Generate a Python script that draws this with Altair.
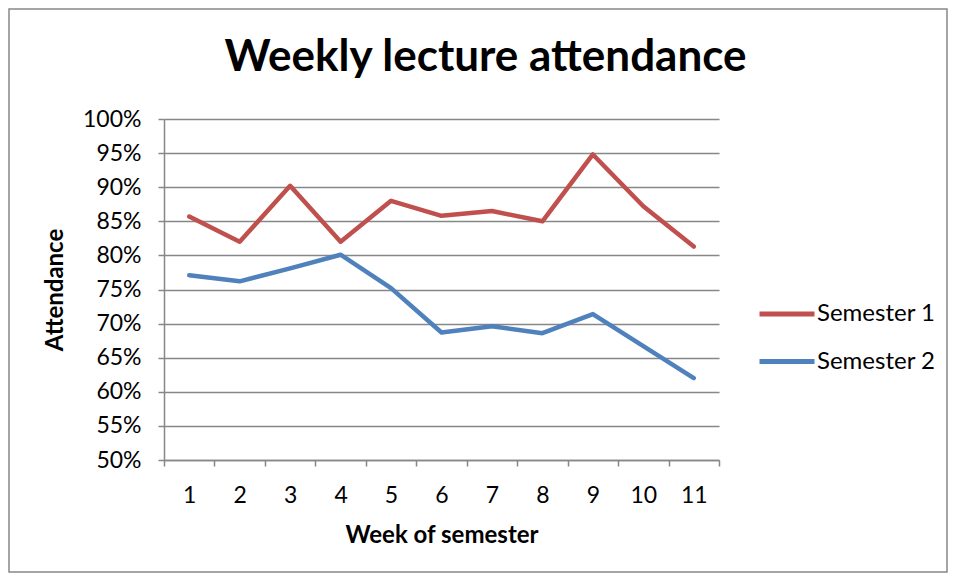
import altair as alt
import pandas as pd

weeks = list(range(1, 12))
semester1 = [0.857, 0.820, 0.902, 0.820, 0.880, 0.858, 0.865, 0.850, 0.948, 0.872, 0.813]
semester2 = [0.771, 0.762, 0.781, 0.801, 0.752, 0.687, 0.696, 0.686, 0.714, 0.667, 0.620]
series_names = ["Semester 1", "Semester 2"]
series_colors = ["#C0504D", "#4F81BD"]

rows = []
for name, vals in zip(series_names, [semester1, semester2]):
    for w, v in zip(weeks, vals):
        rows.append({"Week": w, "Attendance": v, "Series": name})
df = pd.DataFrame(rows)

FONT = "Lato"
GRID = "#878787"

lines = alt.Chart(df).mark_line(strokeWidth=4.5, strokeCap="round", strokeJoin="round").encode(
    x=alt.X("Week:O", title="Week of semester",
            scale=alt.Scale(paddingInner=0, paddingOuter=0, type="band"),
            axis=alt.Axis(labelAngle=0, tickBand="extent", grid=False, tickSize=6,
                          labelPadding=18, titlePadding=16, labelFontSize=23,
                          titleFontSize=24, titleFontWeight="bold")),
    y=alt.Y("Attendance:Q", title="Attendance",
            scale=alt.Scale(domain=[0.5, 1.0], nice=False, zero=False),
            axis=alt.Axis(format=".0%", values=[0.5 + 0.05 * i for i in range(11)],
                          tickSize=6, labelPadding=17, titlePadding=15,
                          labelFontSize=23, titleFontSize=24, titleFontWeight="bold",
                          grid=True)),
    color=alt.Color("Series:N", title=None,
                    scale=alt.Scale(domain=series_names, range=series_colors),
                    legend=alt.Legend(orient="none", legendX=593, legendY=165,
                                      symbolType="stroke", symbolSize=3025,
                                      symbolStrokeWidth=5, labelFontSize=24,
                                      labelOffset=0, rowPadding=5.5,
                                      labelColor="#000000")),
)

border = alt.Chart(pd.DataFrame({"b": [0]})).mark_rect(
    fill=None, stroke="#888888", strokeWidth=1.5, clip=False
).encode(
    x=alt.value(-155), x2=alt.value(783), y=alt.value(-110), y2=alt.value(453)
)

chart = alt.layer(border, lines).properties(
    width=555, height=341,
    padding={"left": 156, "top": 111, "right": 229, "bottom": 113},
    autosize=alt.AutoSizeParams(type="none"),
    title=alt.TitleParams("Weekly lecture attendance", fontSize=44, font=FONT,
                          fontWeight="bold", color="#000000", anchor="middle",
                          dx=44, offset=-72),
).configure(
    font=FONT,
).configure_view(
    stroke=None,
).configure_axis(
    domainColor=GRID, tickColor=GRID, gridColor=GRID, domainWidth=1.5,
    tickWidth=1.5, gridWidth=1.5, labelColor="#000000", titleColor="#000000",
    labelFont=FONT, titleFont=FONT,
).configure_legend(
    labelFont=FONT,
)

chart.save("out.html", embed_options={"renderer": "svg", "actions": False})
